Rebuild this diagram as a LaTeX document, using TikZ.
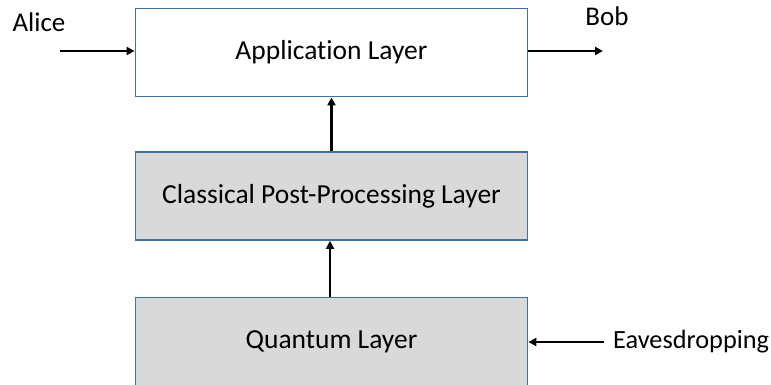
\documentclass[tikz,border=0pt]{standalone}
\usepackage{fontspec}
\setmainfont[Ligatures=NoCommon]{Carlito}
\usetikzlibrary{arrows.meta}
\definecolor{layerborder}{HTML}{41719C}
\definecolor{layerfill}{HTML}{D9D9D9}
\tikzset{
  layer/.style={draw=layerborder, line width=1.8pt, minimum width=392pt, minimum height=88pt,
    inner sep=0pt, font=\fontsize{27.5}{32}\selectfont, text=black},
  label/.style={font=\fontsize{27}{32}\selectfont, text=black, inner sep=0pt},
  flow/.style={line width=2.4pt, -{Triangle[length=8pt,width=8pt]}}
}
\begin{document}
\begin{tikzpicture}[x=1pt,y=-1pt]
  \useasboundingbox (0,0) rectangle (771,385);
  % the three layers
  \node[layer, fill=white] (app) at (331.5,52.5) {Application Layer};
  \node[layer, fill=layerfill] (post) at (331.5,196) {Classical Post-Processing Layer};
  \node[layer, fill=layerfill] (quant) at (331.5,341.5) {Quantum Layer};
  % external parties
  \node[label] (alice) at (39,22) {Alice};
  \node[label] (bob) at (607,16) {Bob};
  \node[label, anchor=west, font=\fontsize{26.3}{30}\selectfont] (eve) at (613,342) {Eavesdropping};
  \coordinate (ain) at (60,51);
  \coordinate (bout) at (603,51);
  \coordinate (ein) at (604,342);
  % connectors
  \draw[flow] (ain) -- (ain -| app.west);
  \draw[flow] (bout -| app.east) -- (bout);
  \draw[flow] (ein) -- (ein -| quant.east);
  \draw[flow] ([xshift=-1.5pt]quant.north) -- ([xshift=-1.5pt]post.south);
  \draw[flow] (post.north) -- (app.south);
\end{tikzpicture}
\end{document}
